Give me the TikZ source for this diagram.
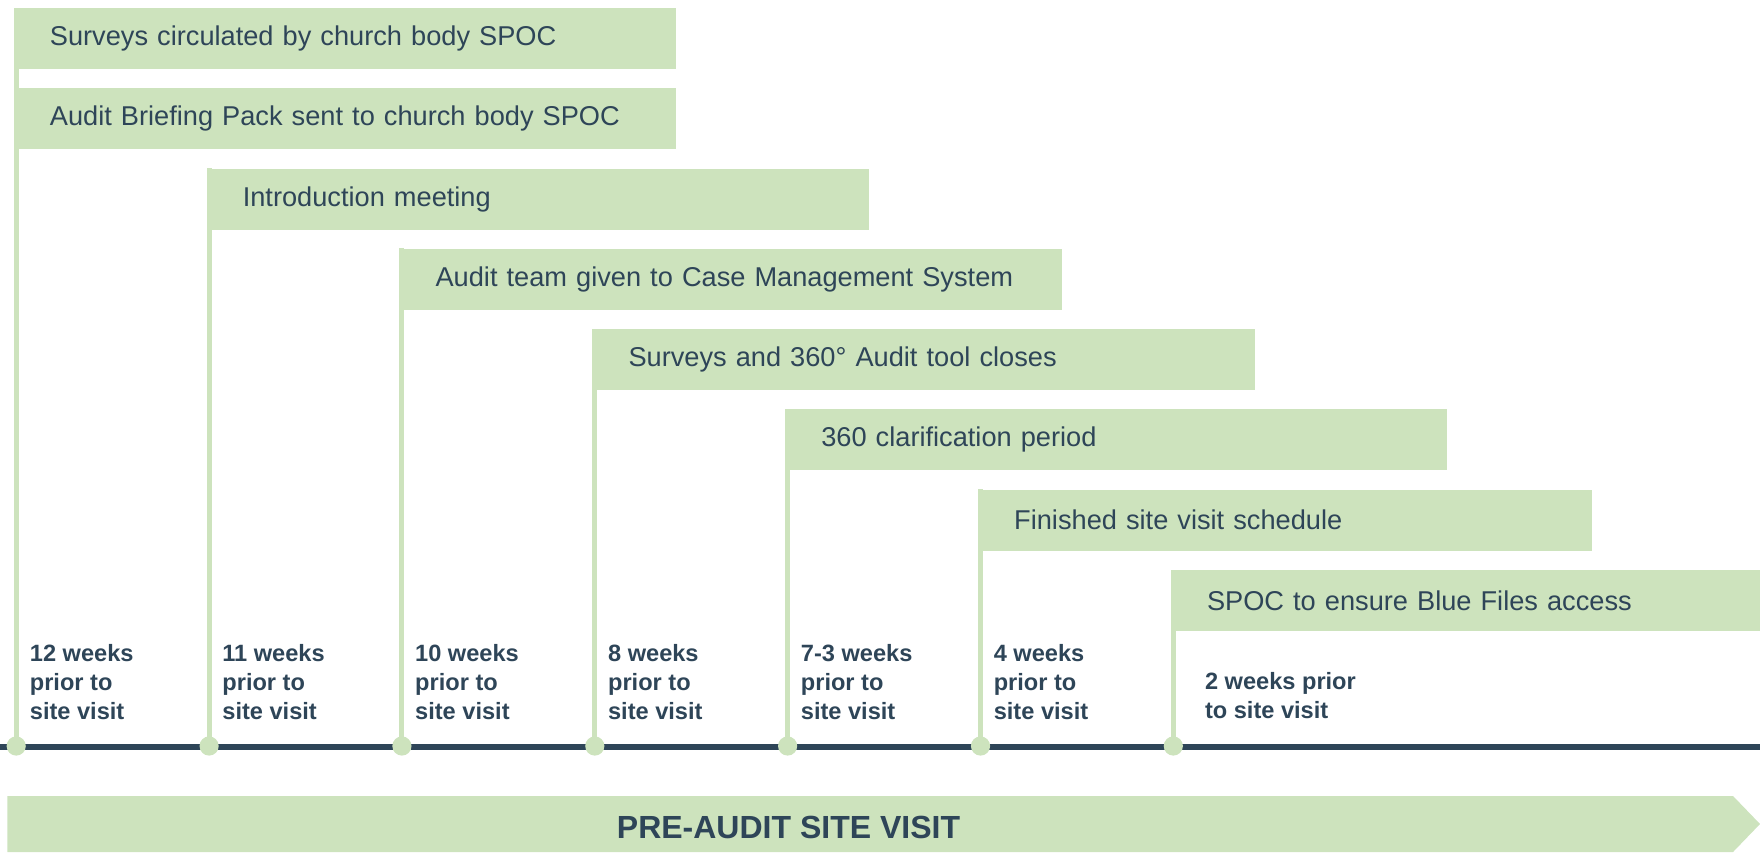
\documentclass[tikz,border=0pt]{standalone}
\usepackage{fontspec}
\setmainfont{Liberation Sans}
\definecolor{lgreen}{RGB}{205,227,189}
\definecolor{navy}{RGB}{46,69,88}
\pgfdeclarelayer{bg}
\pgfsetlayers{bg,main}
\tikzset{
  taskbox/.style={fill=lgreen, anchor=north west, minimum height=30.5pt,
    inner ysep=0pt, inner xsep=18pt, text=navy, align=left,
    font=\fontsize{13.6}{16}\selectfont, text width=#1},
  taskbox/.default=295pt,
  weeklbl/.style={anchor=base west, inner sep=0pt, align=left, text=navy,
    font=\bfseries\fontsize{11.8}{14.4}\selectfont},
  tdot/.style={circle, fill=lgreen, inner sep=0pt, minimum size=9.6pt},
  vline/.style={draw=lgreen, line width=2.5pt},
  tline/.style={draw=navy, line width=3pt},
}
\begin{document}
\begin{tikzpicture}[x=0.5pt,y=-0.5pt]
\useasboundingbox (0,0) rectangle (1760,852);
% boxes
\node[taskbox] (b1) at (13.5,7.5) {Surveys circulated by church body SPOC};
\node[taskbox] (b2) at (13.5,87.8) {Audit Briefing Pack sent to church body SPOC};
\node[taskbox] (b3) at (206.4,168.1) {Introduction meeting};
\node[taskbox] (b4) at (399.2,248.4) {Audit team given to Case Management System};
\node[taskbox] (b5) at (592.1,328.7) {Surveys and 360° Audit tool closes};
\node[taskbox] (b6) at (784.9,409) {360 clarification period};
\node[taskbox=270.7pt] (b7) at (977.8,489.3) {Finished site visit schedule};
\node[taskbox=258.7pt] (b8) at (1170.6,569.6) {SPOC to ensure Blue Files access};
% timeline dots
\node[tdot] (d1) at (16.2,746) {};
\node[tdot] (d2) at (209.1,746) {};
\node[tdot] (d3) at (401.9,746) {};
\node[tdot] (d4) at (594.8,746) {};
\node[tdot] (d5) at (787.6,746) {};
\node[tdot] (d6) at (980.5,746) {};
\node[tdot] (d7) at (1173.3,746) {};
\coordinate (tl0) at (0,747);
\coordinate (tl1) at (1760,747);
\begin{pgfonlayer}{bg}
  \draw[vline] (d1.center) -- (d1.center |- b1.north);
  \draw[vline] (d2.center) -- (d2.center |- b3.north);
  \draw[vline] (d3.center) -- (d3.center |- b4.north);
  \draw[vline] (d4.center) -- (d4.center |- b5.north);
  \draw[vline] (d5.center) -- (d5.center |- b6.north);
  \draw[vline] (d6.center) -- (d6.center |- b7.north);
  \draw[vline] (d7.center) -- (d7.center |- b8.north);
  \draw[tline] (tl0) -- (tl1);
\end{pgfonlayer}
% labels (base anchor = baseline of last line)
\node[weeklbl] (l1) at (29.5,719.3) {12 weeks\\prior to\\site visit};
\node[weeklbl] (l2) at (222,719.3) {11 weeks\\prior to\\site visit};
\node[weeklbl] (l3) at (414.8,719.3) {10 weeks\\prior to\\site visit};
\node[weeklbl] (l4) at (607.7,719.3) {8 weeks\\prior to\\site visit};
\node[weeklbl] (l5) at (800.5,719.3) {7-3 weeks\\prior to\\site visit};
\node[weeklbl] (l6) at (993.4,719.3) {4 weeks\\prior to\\site visit};
\node[weeklbl] (l7) at (1204.6,718.7) {2 weeks prior\\to site visit};
% bottom arrow
\fill[lgreen] (7.3,796) -- (1733,796) -- (1760,824) -- (1733,852) -- (7.3,852) -- cycle;
\node[anchor=base, inner sep=0pt, text=navy, font=\bfseries\fontsize{16}{19}\selectfont] (arr) at (788.5,838.3) {PRE-AUDIT SITE VISIT};
\end{tikzpicture}
\end{document}
